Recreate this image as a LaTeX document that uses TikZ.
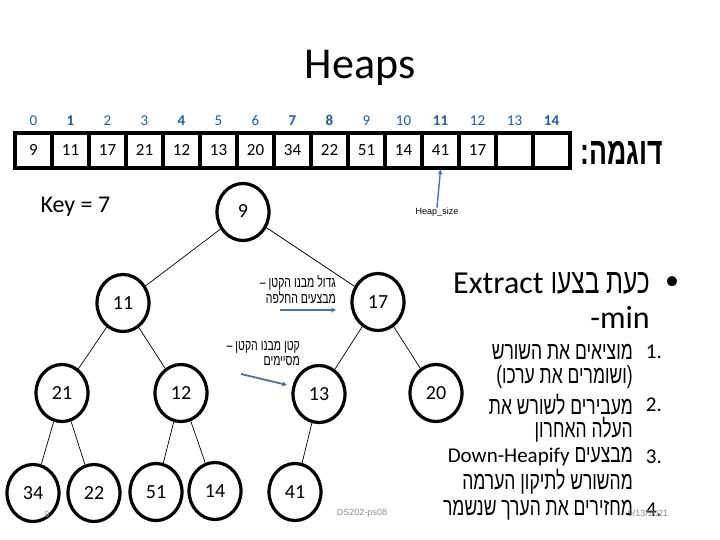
\documentclass[tikz,border=0pt]{standalone}
\usepackage{fontspec}
\setmainfont{Carlito}[Numbers=Lining]
\newfontfamily\heb[Script=Hebrew,FakeStretch=0.7]{Liberation Sans}
\newfontfamily\smallsans{Liberation Sans}
\TeXXeTstate=1
\usetikzlibrary{positioning,shapes.geometric,arrows.meta}
\definecolor{idxblue}{RGB}{31,95,155}
\definecolor{arrblue}{RGB}{80,115,155}
\definecolor{footgray}{RGB}{140,140,140}
\tikzset{
  cell/.style={draw, line width=3.2pt, minimum width=37pt, minimum height=35pt, inner sep=0pt, text height=11pt, text depth=1pt, font=\fontsize{17}{17}\selectfont},
  idx/.style={text=idxblue, inner sep=0pt, text height=10pt, text depth=0pt, font=\fontsize{15}{15}\selectfont},
  hnode/.style={ellipse, draw, line width=3.2pt, minimum width=52pt, minimum height=57pt, inner sep=0pt, text height=13pt, text depth=1pt, font=\fontsize{20}{20}\selectfont},
  edge/.style={line width=0.7pt},
  note/.style={align=right, inner sep=0pt, font=\heb\fontsize{15}{15}\selectfont},
  pointer/.style={arrblue, line width=1.8pt, -{Stealth[length=5pt,width=5pt]}},
  listitem/.style={anchor=east, inner sep=0pt, font=\heb\fontsize{25}{25}\selectfont},
  num/.style={anchor=east, inner sep=0pt, font=\fontsize{21}{21}\selectfont},
  foot/.style={text=footgray, inner sep=0pt, font=\smallsans\fontsize{9}{9}\selectfont}
}
\begin{document}
\begin{tikzpicture}[x=1pt,y=-1pt]
                \path[fill=white] (0,0) rectangle (720,540);
                % Titre
                \node[font=\fontsize{44}{44}\selectfont] (title) at (360,68) {Heaps};
                % Tableau
                \foreach \v [count=\i from 0] in {9,11,17,21,12,13,20,34,22,51,14,41,17,{},{}}
                    \node[cell] (c\i) at (33.5+37*\i,150.5) {\v};
                \foreach \i in {0,2,3,5,6,9,10,12,13}
                    \node[idx] (i\i) at (33.5+37*\i,121) {\i};
                \foreach \i in {1,4,7,8,11,14}
                    \node[idx,font=\bfseries\fontsize{15}{15}\selectfont] (i\i) at (33.5+37*\i,121) {\i};
                \node[font=\heb\bfseries\fontsize{38}{38}\selectfont, anchor=west] (ex0) at (577,153) {\beginR דוגמה:\endR};
                % Heap_size
                \node[foot, text=black] (hs) at (437,212) {Heap\_size};
                \draw[pointer, line width=1.4pt] (hs.north) -- (c11.south);
                \node[font=\fontsize{24}{24}\selectfont, anchor=west] (key) at (37,207) {Key = 7};
                % Arbre
                \node[hnode] (t9) at (243,212) {9};
                \node[hnode] (t11) at (123,303) {11};
                \node[hnode] (t17) at (378,302) {17};
                \node[hnode] (t21) at (62,393) {21};
                \node[hnode] (t12) at (181,393) {12};
                \node[hnode] (t13) at (319,394) {13};
                \node[hnode] (t20) at (436,393) {20};
                \node[hnode] (t34) at (33,493) {34};
                \node[hnode] (t22) at (94,493) {22};
                \node[hnode] (t51) at (156,492) {51};
                \node[hnode] (t14) at (215,491) {14};
                \node[hnode] (t41) at (295,492) {41};
                \foreach \a/\b in {t9/t11,t9/t17,t11/t21,t11/t12,t17/t13,t17/t20,t21/t34,t21/t22,t12/t51,t12/t14,t13/t41}
                    \draw[edge] (\a) -- (\b);
                % Remarques
                \node[note, anchor=east] (swap) at (336,290) {\beginR גדול מבנו הקטן –\endR\\\beginR מבצעים  החלפה\endR};
                \coordinate (sw1) at (280,310);
                \coordinate (sw2) at (336,310);
                \draw[pointer] (sw1) -- (sw2);
                \node[note, anchor=east] (stop) at (300,354) {\beginR קטן מבנו הקטן –\endR\\\beginR מסיימים\endR};
                \coordinate (st1) at (241,374);
                \coordinate (st2) at (287,385);
                \draw[pointer] (st1) -- (st2);
                % Texte
                \node[font=\fontsize{28}{28}\selectfont] (bul) at (672,283) {•};
                \node[anchor=east, inner sep=0pt, font=\fontsize{32}{32}\selectfont] (extr) at (650,283) {\beginR{\heb\fontsize{35}{35}\selectfont כעת בצעו} \beginL Extract\endL\endR};
                \node[anchor=east, inner sep=0pt, font=\fontsize{32}{32}\selectfont] (min) at (650,317) {-min};
                \node[num] (k1) at (662,352) {1.};
                \node[listitem] (l1) at (633,352) {\beginR מוציאים את השורש\endR};
                \node[listitem] (l1b) at (633,377) {\beginR(ושומרים את ערכו)\endR};
                \node[num] (k2) at (662,405) {2.};
                \node[listitem] (l2) at (633,405) {\beginR מעבירים לשורש את\endR};
                \node[listitem] (l2b) at (633,430) {\beginR העלה האחרון\endR};
                \node[num] (k3) at (662,457) {3.};
                \node[listitem] (l3) at (633,457) {\beginR מבצעים \beginL{\rmfamily\fontsize{21}{21}\selectfont Down-Heapify}\endL\endR};
                \node[listitem] (l3b) at (633,482) {\beginR מהשורש לתיקון הערמה\endR};
                \node[num] (k4) at (662,510) {4.};
                \node[listitem] (l4) at (633,510) {\beginR מחזירים את הערך שנשמר\endR};
                % Bas de page
                \node[foot] (ds) at (362,513) {DS202-ps08};
                \node[foot] (date) at (648,513) {9/13/2021};
                \node[foot] (pg) at (47,514) {9};
            \end{tikzpicture}
\end{document}
